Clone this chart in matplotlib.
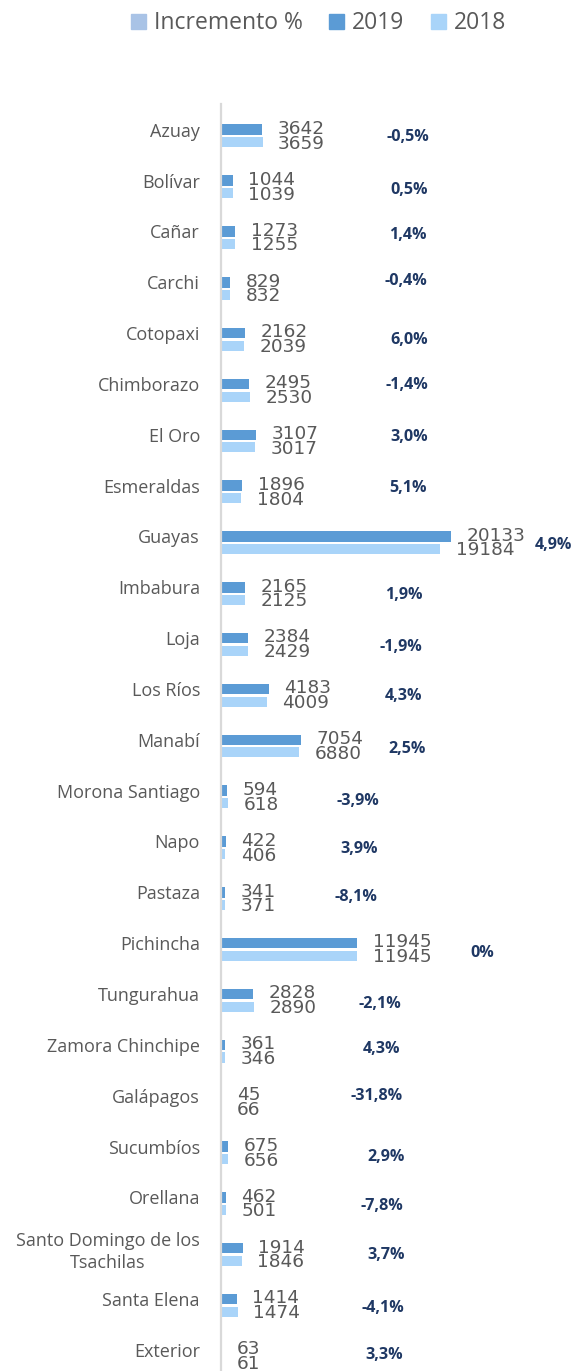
import matplotlib
matplotlib.use('Agg')
import matplotlib.pyplot as plt
from matplotlib.patches import Patch
import numpy as np

categories = ["Azuay", "Bolívar", "Cañar", "Carchi", "Cotopaxi", "Chimborazo",
              "El Oro", "Esmeraldas", "Guayas", "Imbabura", "Loja", "Los Ríos",
              "Manabí", "Morona Santiago", "Napo", "Pastaza", "Pichincha",
              "Tungurahua", "Zamora Chinchipe", "Galápagos", "Sucumbíos",
              "Orellana", "Santo Domingo de los\nTsachilas", "Santa Elena", "Exterior"]
v2019 = [3642, 1044, 1273, 829, 2162, 2495, 3107, 1896, 20133, 2165, 2384, 4183,
         7054, 594, 422, 341, 11945, 2828, 361, 45, 675, 462, 1914, 1414, 63]
v2018 = [3659, 1039, 1255, 832, 2039, 2530, 3017, 1804, 19184, 2125, 2429, 4009,
         6880, 618, 406, 371, 11945, 2890, 346, 66, 656, 501, 1846, 1474, 61]
incremento = [-0.5, 0.5, 1.4, -0.4, 6.0, -1.4, 3.0, 5.1, 4.9, 1.9, -1.9, 4.3,
              2.5, -3.9, 3.9, -8.1, 0, -2.1, 4.3, -31.8, 2.9, -7.8, 3.7, -4.1, 3.3]

# layout of the "Incremento %" labels (x in data units, baseline offset in category units)
incr_label_x = [16370, 16460, 16370, 16200, 16460, 16290, 16460, 16370, 29070, 15980,
                15760, 15980, 16290, 11980, 12130, 11850, 22840, 13930, 14100, 13640,
                14430, 14070, 14430, 14210, 14280]
incr_label_dy = [0.212, 0.256, 0.140, 0.059, 0.218, 0.108, 0.114, 0.130, 0.238, 0.234,
                 0.244, 0.218, 0.266, 0.287, 0.226, 0.175, 0.269, 0.285, 0.161, 0.094,
                 0.285, 0.254, 0.203, 0.252, 0.183]

C2019 = '#5B9BD5'
C2018 = '#A9D4F9'
CINC = '#A9C3E6'
GRAY = '#595959'
NAVY = '#1F3864'

fig = plt.figure(figsize=(5.75, 13.71), dpi=100)
ax = fig.add_axes([0.3838, -0.00314, 0.6162, 0.92706])

y = np.arange(len(categories))
ax.barh(y, v2019, height=0.207, color=C2019)
ax.barh(y + 0.249, v2018, height=0.197, color=C2018)

ax.set_ylim(len(categories) - 0.5, -0.5)
ax.set_xlim(0, 30970)

for s in ['top', 'right', 'bottom']:
    ax.spines[s].set_visible(False)
ax.spines['left'].set_color('#D9D9D9')
ax.spines['left'].set_linewidth(1.6)
ax.set_xticks([])
ax.set_yticks(y)
ax.set_yticklabels(categories, fontsize=13, color=GRAY, family='Open Sans')
ax.tick_params(axis='y', length=0, pad=14.9)
for lbl in ax.get_yticklabels():
    lbl.set_multialignment('center')
    lbl.set_linespacing(1.25)

for i in range(len(categories)):
    ax.annotate(str(v2019[i]), xy=(v2019[i], y[i]), xytext=(11.2, 0.5),
                textcoords='offset points', ha='left', va='center',
                fontsize=13.3, color=GRAY, family='DejaVu Sans')
    ax.annotate(str(v2018[i]), xy=(v2018[i], y[i] + 0.249), xytext=(11.2, -1.0),
                textcoords='offset points', ha='left', va='center',
                fontsize=13.3, color=GRAY, family='DejaVu Sans')
    v = incremento[i]
    txt = '0%' if v == 0 else (f'{v:.1f}'.replace('.', ',') + '%')
    ax.text(incr_label_x[i], y[i] + incr_label_dy[i], txt, ha='center', va='baseline',
            fontsize=11.6, fontweight='bold', color=NAVY, family='Open Sans')

handles = [Patch(color=CINC, label='Incremento %'),
           Patch(color=C2019, label='2019'),
           Patch(color=C2018, label='2018')]
leg = fig.legend(handles=handles, loc='center', bbox_to_anchor=(0.554, 0.983), ncol=3,
                 frameon=False, prop={'family': 'Open Sans', 'size': 16.5},
                 handlelength=0.655, handleheight=0.655, handletextpad=0.35,
                 columnspacing=1.15, labelcolor=GRAY, borderpad=0, borderaxespad=0)

fig.savefig('out.png', dpi=100)
